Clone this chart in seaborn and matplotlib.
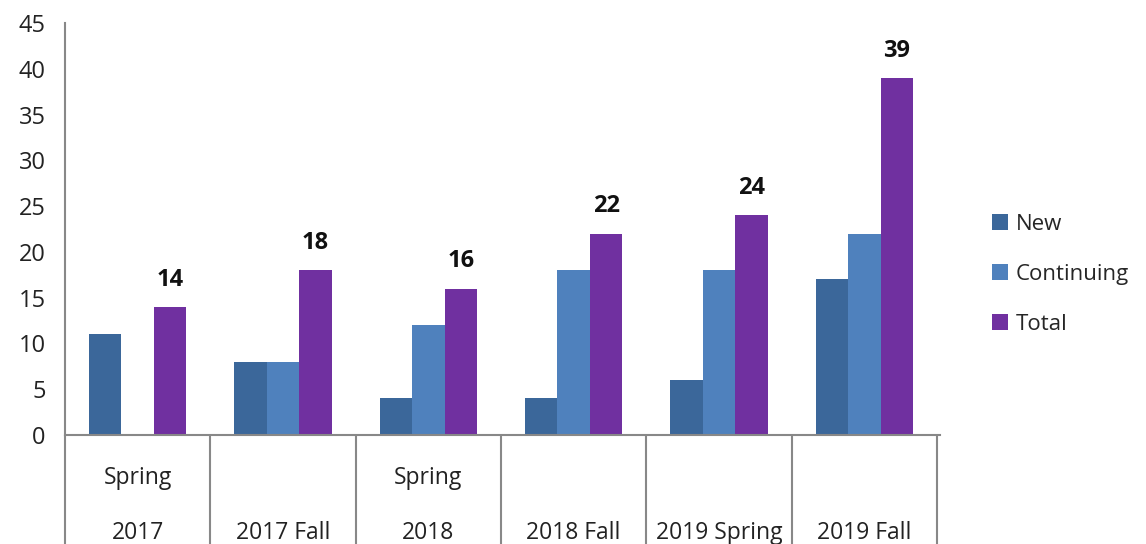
import pandas as pd
import seaborn as sns
import matplotlib.pyplot as plt

# semesters and counts
semesters = ["Spring\n2017", "\n2017 Fall", "Spring\n2018", "\n2018 Fall", "\n2019 Spring", "\n2019 Fall"]
new_students = [11, 8, 4, 4, 6, 17]
continuing = [0, 8, 12, 18, 18, 22]
total = [14, 18, 16, 22, 24, 39]
series = ["New", "Continuing", "Total"]
colors = ["#3B679A", "#4F81BD", "#7030A0"]

df = pd.DataFrame({
    "semester": semesters * 3,
    "series": ["New"] * 6 + ["Continuing"] * 6 + ["Total"] * 6,
    "count": new_students + continuing + total,
})

sns.set_style("white")
plt.rcParams["font.family"] = ["Open Sans", "DejaVu Sans"]

fig = plt.figure(figsize=(11.46, 5.44), dpi=100)
ax = fig.add_axes([0.0567, 0.2004, 0.7635, 0.7573])

sns.barplot(data=df, x="semester", y="count", hue="series", hue_order=series,
            palette=colors, width=0.67, gap=0, saturation=1, linewidth=0, ax=ax)

# value labels on the Total bars
ax.bar_label(ax.containers[2], fontsize=17, fontweight="bold", padding=11, color="#111111")

ax.set_ylim(0, 45)
ax.set_xlim(-0.5, 5.52)
ax.set_yticks(range(0, 46, 5))
ax.set_xlabel("")
ax.set_ylabel("")

for s in ["top", "right"]:
    ax.spines[s].set_visible(False)
for s in ["left", "bottom"]:
    ax.spines[s].set_color("#888888")
    ax.spines[s].set_linewidth(1.5)

ax.tick_params(axis="y", length=0, pad=14, labelsize=17, labelcolor="#222222")
ax.tick_params(axis="x", which="major", length=0, pad=22, labelsize=16.5, labelcolor="#222222")
for lbl in ax.get_xticklabels():
    lbl.set_linespacing(2.75)
    lbl.set_verticalalignment("top")

# category boxes under the axis
ax.set_xticks([i - 0.5 for i in range(7)], minor=True)
ax.tick_params(axis="x", which="minor", bottom=True, length=85, width=1.5,
               color="#888888", direction="out")

ax.legend(loc="center left", bbox_to_anchor=(1.06, 0.39), frameon=False, fontsize=16,
          borderaxespad=0, borderpad=0, labelspacing=1.3, handlelength=0.7,
          handleheight=0.7, handletextpad=0.35)

fig.savefig("out.png", dpi=100)
